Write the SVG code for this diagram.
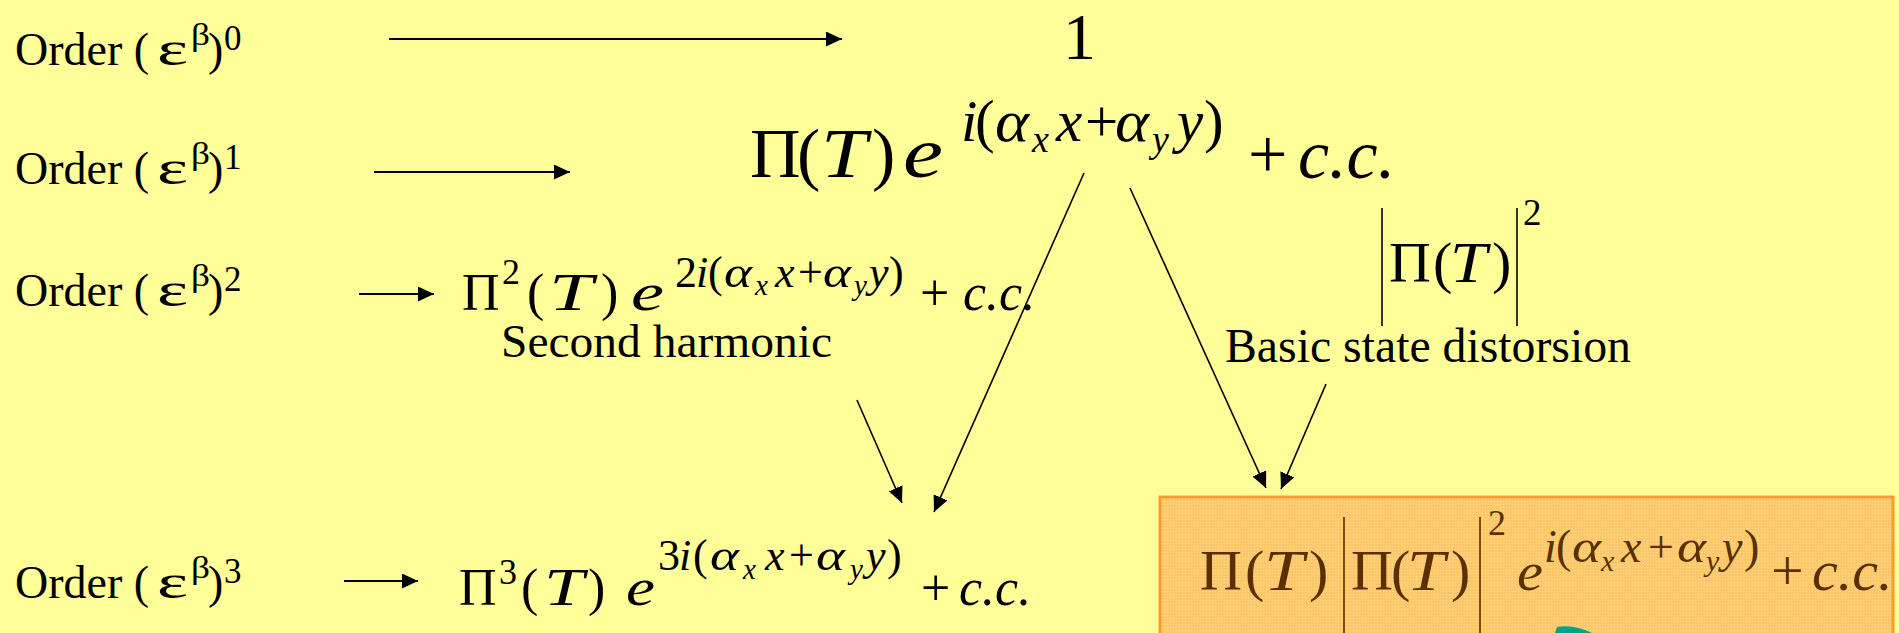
<svg xmlns="http://www.w3.org/2000/svg" width="1899" height="633" viewBox="0 0 1899 633">
<defs>
<style>
.t{font-family:"Liberation Serif","Times New Roman",serif;fill:#000}
.lbl{font-size:46px}
.it{font-style:italic}
.br{fill:#5a3000}
.ln{stroke:#000;stroke-width:2;fill:none}
.dl{stroke:#000;stroke-width:1.6;fill:none}
.bar{stroke:#000;stroke-width:1.6}
</style>
<marker id="ah" markerUnits="userSpaceOnUse" markerWidth="17" markerHeight="15" refX="16" refY="7.5" orient="auto">
<path d="M0,0 L16,7.5 L0,15 z" fill="#000"/>
</marker>
<pattern id="dith" width="3" height="3" patternUnits="userSpaceOnUse">
<rect width="3" height="3" fill="#fdc86a"/>
<rect width="1" height="1" fill="#ffdc98"/>
</pattern>
</defs>
<rect width="1899" height="633" fill="#ffff99"/>

<g id="label-order0">
<text class="t lbl" x="15" y="65">Order (<tspan x="157" font-size="48" textLength="31" lengthAdjust="spacingAndGlyphs">ε</tspan><tspan x="191" y="45" font-size="32" textLength="19" lengthAdjust="spacingAndGlyphs">β</tspan><tspan x="208" y="65">)</tspan><tspan x="224" y="50" font-size="35">0</tspan></text>
</g>
<g id="label-order1">
<text class="t lbl" x="15" y="184">Order (<tspan x="157" font-size="48" textLength="31" lengthAdjust="spacingAndGlyphs">ε</tspan><tspan x="191" y="164" font-size="32" textLength="19" lengthAdjust="spacingAndGlyphs">β</tspan><tspan x="208" y="184">)</tspan><tspan x="224" y="169" font-size="35">1</tspan></text>
</g>
<g id="label-order2">
<text class="t lbl" x="15" y="306">Order (<tspan x="157" font-size="48" textLength="31" lengthAdjust="spacingAndGlyphs">ε</tspan><tspan x="191" y="286" font-size="32" textLength="19" lengthAdjust="spacingAndGlyphs">β</tspan><tspan x="208" y="306">)</tspan><tspan x="224" y="291" font-size="35">2</tspan></text>
</g>
<g id="label-order3">
<text class="t lbl" x="15" y="598">Order (<tspan x="157" font-size="48" textLength="31" lengthAdjust="spacingAndGlyphs">ε</tspan><tspan x="191" y="578" font-size="32" textLength="19" lengthAdjust="spacingAndGlyphs">β</tspan><tspan x="208" y="598">)</tspan><tspan x="224" y="583" font-size="35">3</tspan></text>
</g>

<g id="term-order0">
<text class="t" x="1063" y="59" font-size="66">1</text>
</g>

<g id="term-order1">
<text class="t" font-size="70"><tspan x="750" y="177">Π</tspan><tspan x="797" y="177">(</tspan><tspan class="it" x="821" y="177" textLength="46" lengthAdjust="spacingAndGlyphs">T</tspan><tspan x="872" y="177">)</tspan><tspan class="it" x="903" y="177" font-size="72" textLength="40" lengthAdjust="spacingAndGlyphs">e</tspan><tspan class="it" x="961" y="141" font-size="59">i</tspan><tspan x="975" y="141" font-size="59">(</tspan><tspan class="it" x="995" y="141" font-size="59" textLength="34" lengthAdjust="spacingAndGlyphs">α</tspan><tspan class="it" x="1032" y="152" font-size="38">x</tspan><tspan class="it" x="1056" y="141" font-size="59">x</tspan><tspan x="1085" y="141" font-size="59">+</tspan><tspan class="it" x="1115" y="141" font-size="59" textLength="34" lengthAdjust="spacingAndGlyphs">α</tspan><tspan class="it" x="1152" y="152" font-size="38">y</tspan><tspan class="it" x="1177" y="141" font-size="59">y</tspan><tspan x="1204" y="141" font-size="59">)</tspan><tspan x="1248" y="178">+</tspan><tspan class="it" x="1298" y="178">c.c.</tspan></text>
</g>

<g id="term-order2">
<text class="t" font-size="52"><tspan x="462" y="310">Π</tspan><tspan x="502" y="284" font-size="36">2</tspan><tspan x="527" y="310">(</tspan><tspan class="it" x="549" y="310" textLength="44" lengthAdjust="spacingAndGlyphs">T</tspan><tspan x="601" y="310">)</tspan><tspan class="it" x="631" y="310" textLength="33" lengthAdjust="spacingAndGlyphs">e</tspan><tspan x="675" y="287" font-size="44">2</tspan><tspan class="it" x="696" y="287" font-size="44">i</tspan><tspan x="708" y="287" font-size="44">(</tspan><tspan class="it" x="724" y="287" font-size="44" textLength="28" lengthAdjust="spacingAndGlyphs">α</tspan><tspan class="it" x="755" y="295" font-size="29">x</tspan><tspan class="it" x="775" y="287" font-size="44">x</tspan><tspan x="798" y="287" font-size="44">+</tspan><tspan class="it" x="823" y="287" font-size="44" textLength="28" lengthAdjust="spacingAndGlyphs">α</tspan><tspan class="it" x="854" y="295" font-size="29">y</tspan><tspan class="it" x="869" y="287" font-size="44">y</tspan><tspan x="889" y="287" font-size="44">)</tspan><tspan x="920" y="310">+</tspan><tspan class="it" x="963" y="310">c.c.</tspan></text>
<text class="t" x="501" y="357" font-size="47" textLength="331" lengthAdjust="spacingAndGlyphs">Second harmonic</text>
</g>

<g id="term-order3">
<text class="t" font-size="52"><tspan x="459" y="605">Π</tspan><tspan x="499" y="584" font-size="36">3</tspan><tspan x="521" y="605">(</tspan><tspan class="it" x="544" y="605" textLength="40" lengthAdjust="spacingAndGlyphs">T</tspan><tspan x="588" y="605">)</tspan><tspan class="it" x="626" y="605" textLength="29" lengthAdjust="spacingAndGlyphs">e</tspan><tspan x="658" y="570" font-size="44">3</tspan><tspan class="it" x="679" y="570" font-size="44">i</tspan><tspan x="693" y="570" font-size="44">(</tspan><tspan class="it" x="710" y="570" font-size="44" textLength="29" lengthAdjust="spacingAndGlyphs">α</tspan><tspan class="it" x="743" y="579" font-size="29">x</tspan><tspan class="it" x="765" y="570" font-size="44">x</tspan><tspan x="789" y="570" font-size="44">+</tspan><tspan class="it" x="816" y="570" font-size="44" textLength="29" lengthAdjust="spacingAndGlyphs">α</tspan><tspan class="it" x="850" y="579" font-size="29">y</tspan><tspan class="it" x="866" y="570" font-size="44">y</tspan><tspan x="887" y="570" font-size="44">)</tspan><tspan x="921" y="605">+</tspan><tspan class="it" x="959" y="605">c.c.</tspan></text>
</g>

<g id="term-distortion">
<line class="bar" x1="1382" y1="208" x2="1382" y2="326"/>
<line class="bar" x1="1517" y1="208" x2="1517" y2="326"/>
<text class="t" font-size="58"><tspan x="1389" y="282">Π</tspan><tspan x="1433" y="282">(</tspan><tspan class="it" x="1450" y="282" textLength="37" lengthAdjust="spacingAndGlyphs">T</tspan><tspan x="1492" y="282">)</tspan><tspan x="1523" y="225" font-size="37">2</tspan></text>
<text class="t" x="1225" y="362" font-size="48" textLength="406" lengthAdjust="spacingAndGlyphs">Basic state distorsion</text>
</g>

<g id="term-result">
<rect x="1160" y="497" width="733" height="150" fill="url(#dith)" stroke="#ff9933" stroke-width="3"/>
<line x1="1344" y1="517" x2="1344" y2="633" stroke="#5a3000" stroke-width="1.6"/>
<line x1="1480" y1="517" x2="1480" y2="633" stroke="#5a3000" stroke-width="1.6"/>
<text class="t br" font-size="58"><tspan x="1200" y="590">Π</tspan><tspan x="1245" y="590">(</tspan><tspan class="it" x="1264" y="590" textLength="40" lengthAdjust="spacingAndGlyphs">T</tspan><tspan x="1309" y="590">)</tspan><tspan x="1351" y="590">Π</tspan><tspan x="1391" y="590">(</tspan><tspan class="it" x="1407" y="590" textLength="38" lengthAdjust="spacingAndGlyphs">T</tspan><tspan x="1451" y="590">)</tspan><tspan x="1488" y="535" font-size="36">2</tspan><tspan class="it" x="1517" y="590" font-size="54" textLength="26" lengthAdjust="spacingAndGlyphs">e</tspan><tspan class="it" x="1544" y="562" font-size="46">i</tspan><tspan x="1556" y="562" font-size="46">(</tspan><tspan class="it" x="1572" y="562" font-size="46" textLength="29" lengthAdjust="spacingAndGlyphs">α</tspan><tspan class="it" x="1601" y="571" font-size="30">x</tspan><tspan class="it" x="1621" y="562" font-size="46">x</tspan><tspan x="1648" y="562" font-size="46">+</tspan><tspan class="it" x="1677" y="562" font-size="46" textLength="29" lengthAdjust="spacingAndGlyphs">α</tspan><tspan class="it" x="1706" y="571" font-size="30">y</tspan><tspan class="it" x="1722" y="562" font-size="46">y</tspan><tspan x="1744" y="562" font-size="46">)</tspan><tspan x="1771" y="590">+</tspan><tspan class="it" x="1812" y="590">c.c.</tspan></text>
<path d="M1555,633 L1557,627 Q1574,624 1592,633 Z" fill="#00a383"/>
</g>

<g id="connectors">
<line class="ln" x1="389" y1="39" x2="842" y2="39" marker-end="url(#ah)"/>
<line class="ln" x1="374" y1="172" x2="570" y2="172" marker-end="url(#ah)"/>
<line class="ln" x1="359" y1="294" x2="434" y2="294" marker-end="url(#ah)"/>
<line class="ln" x1="344" y1="581" x2="418" y2="581" marker-end="url(#ah)"/>
<line class="dl" x1="1084" y1="173" x2="934" y2="512" marker-end="url(#ah)"/>
<line class="dl" x1="1130" y1="188" x2="1266" y2="488" marker-end="url(#ah)"/>
<line class="dl" x1="1326" y1="384" x2="1281" y2="489" marker-end="url(#ah)"/>
<line class="dl" x1="857" y1="400" x2="902" y2="503" marker-end="url(#ah)"/>
</g>
</svg>
